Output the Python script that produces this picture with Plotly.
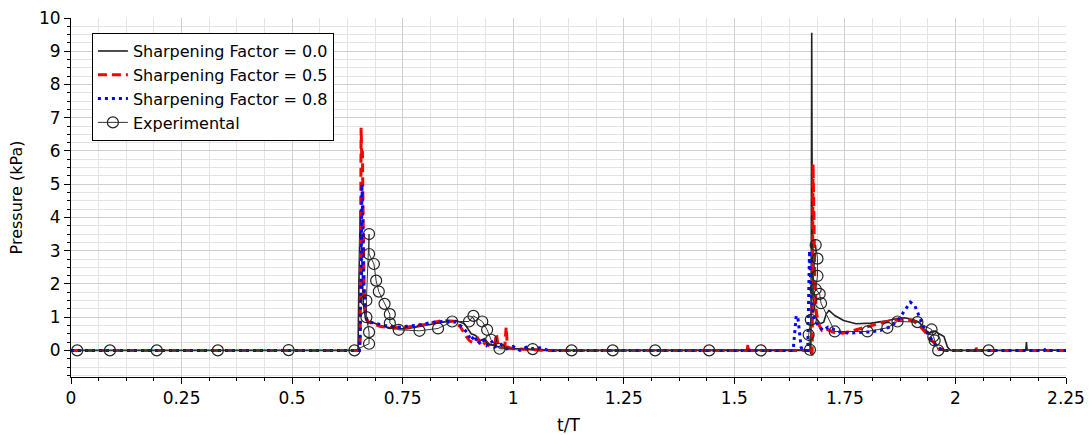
import plotly.graph_objects as go

# Simulated pressure traces, (t/T, pressure in kPa)
sf_00 = [
    (0.0, 0.0), (0.649, 0.0), (0.651, 2.0), (0.654, 4.2), (0.657, 3.0), (0.661, 1.4),
    (0.666, 0.95), (0.672, 0.8), (0.680, 0.85), (0.700, 0.75), (0.730, 0.65), (0.760, 0.65),
    (0.800, 0.75), (0.840, 0.85), (0.870, 0.9), (0.890, 0.8), (0.905, 0.5), (0.915, 0.45),
    (0.925, 0.3), (0.935, 0.35), (0.945, 0.2), (0.955, 0.15), (0.970, 0.1), (0.990, 0.05),
    (1.020, 0.05), (1.060, 0.0), (1.671, 0.0), (1.673, -0.1), (1.674, 3.0), (1.675, 9.56),
    (1.676, 4.5), (1.678, 1.8), (1.681, 1.3), (1.686, 0.95), (1.694, 0.8), (1.702, 0.85),
    (1.708, 1.1), (1.714, 1.2), (1.727, 1.05), (1.747, 0.9), (1.775, 0.8), (1.810, 0.82),
    (1.840, 0.88), (1.865, 0.95), (1.885, 0.98), (1.905, 0.92), (1.918, 0.85), (1.930, 0.62),
    (1.942, 0.52), (1.955, 0.58), (1.963, 0.5), (1.974, 0.42), (1.982, 0.1), (1.989, 0.0),
    (2.159, 0.0), (2.1605, 0.25), (2.162, 0.02), (2.250, 0.0),
]

sf_05 = [
    (0.0, 0.0), (0.652, 0.0), (0.654, 0.3), (0.656, 6.7), (0.6575, 5.8), (0.659, 6.0),
    (0.661, 3.5), (0.663, 1.8), (0.667, 1.0), (0.672, 0.85), (0.685, 0.8), (0.700, 0.72),
    (0.730, 0.68), (0.760, 0.7), (0.800, 0.78), (0.840, 0.9), (0.865, 0.88), (0.880, 0.72),
    (0.892, 0.45), (0.902, 0.28), (0.912, 0.22), (0.920, 0.35), (0.928, 0.12), (0.938, 0.25),
    (0.948, 0.1), (0.958, 0.15), (0.962, 0.5), (0.966, 0.12), (0.975, 0.1), (0.981, 0.12),
    (0.984, 0.7), (0.987, 0.1), (1.000, 0.05), (1.040, 0.02), (1.080, 0.0), (1.529, 0.0),
    (1.531, 0.2), (1.533, 0.0), (1.674, 0.0), (1.676, -0.15), (1.677, 2.5), (1.678, 5.6),
    (1.680, 4.0), (1.682, 2.2), (1.685, 1.2), (1.690, 0.8), (1.698, 0.6), (1.708, 0.65),
    (1.722, 0.55), (1.745, 0.52), (1.770, 0.6), (1.800, 0.72), (1.830, 0.82), (1.860, 0.9),
    (1.885, 0.95), (1.905, 0.88), (1.920, 0.72), (1.935, 0.5), (1.945, 0.32), (1.955, 0.18),
    (1.965, 0.05), (1.975, 0.0), (2.044, 0.0), (2.046, 0.12), (2.048, 0.0), (2.250, 0.0),
]

sf_08 = [
    (0.0, 0.0), (0.652, 0.0), (0.654, 0.5), (0.656, 4.0), (0.658, 5.0), (0.660, 3.8),
    (0.662, 2.0), (0.665, 1.2), (0.669, 0.9), (0.676, 0.85), (0.690, 0.8), (0.710, 0.75),
    (0.740, 0.7), (0.780, 0.75), (0.820, 0.85), (0.850, 0.88), (0.870, 0.85), (0.885, 0.7),
    (0.895, 0.55), (0.905, 0.3), (0.912, 0.45), (0.920, 0.2), (0.930, 0.35), (0.940, 0.15),
    (0.950, 0.3), (0.958, 0.1), (0.970, 0.2), (0.985, 0.05), (1.000, 0.12), (1.015, 0.0),
    (1.030, 0.1), (1.045, 0.05), (1.060, 0.08), (1.080, 0.0), (1.633, 0.0), (1.637, 0.6),
    (1.640, 1.05), (1.644, 0.95), (1.647, 0.5), (1.651, 0.1), (1.654, 0.0), (1.666, 0.0),
    (1.668, 1.5), (1.670, 3.0), (1.672, 2.2), (1.674, 1.6), (1.677, 1.1), (1.681, 0.9),
    (1.690, 0.75), (1.700, 0.6), (1.712, 0.7), (1.725, 0.62), (1.740, 0.55), (1.760, 0.52),
    (1.785, 0.54), (1.810, 0.56), (1.830, 0.6), (1.850, 0.7), (1.870, 0.9), (1.885, 1.2),
    (1.898, 1.45), (1.908, 1.35), (1.918, 1.0), (1.928, 0.7), (1.940, 0.45), (1.950, 0.25),
    (1.960, 0.1), (1.970, 0.0), (2.200, 0.0), (2.205, 0.05), (2.212, 0.0), (2.250, 0.0),
]

# Measured pressure samples
experimental = [
    (0.014, 0.0), (0.088, 0.0), (0.194, 0.0), (0.332, 0.0), (0.492, 0.01), (0.641, 0.0),
    (0.674, 0.2), (0.674, 0.55), (0.668, 1.0), (0.668, 1.5), (0.674, 3.5), (0.674, 2.9),
    (0.685, 2.6), (0.690, 2.1), (0.696, 1.77), (0.709, 1.4), (0.721, 1.09), (0.721, 0.82),
    (0.741, 0.62), (0.788, 0.59), (0.830, 0.66), (0.862, 0.87), (0.900, 0.87), (0.910, 1.04),
    (0.930, 0.87), (0.941, 0.62), (0.950, 0.32), (0.969, 0.05), (1.044, 0.04), (1.132, 0.0),
    (1.225, 0.0), (1.321, 0.0), (1.443, 0.0), (1.560, 0.0), (1.671, 0.02), (1.668, 0.47),
    (1.673, 0.92), (1.684, 3.17), (1.688, 2.76), (1.688, 2.24), (1.684, 1.84), (1.693, 1.70),
    (1.696, 1.42), (1.727, 0.57), (1.801, 0.57), (1.846, 0.68), (1.869, 0.87), (1.914, 0.85),
    (1.946, 0.63), (1.950, 0.42), (1.953, 0.3), (1.961, 0.0), (2.075, 0.0),
]

x_tick_vals = [0, 0.25, 0.5, 0.75, 1, 1.25, 1.5, 1.75, 2, 2.25]
x_tick_text = ["0", "0.25", "0.5", "0.75", "1", "1.25", "1.5", "1.75", "2", "2.25"]
y_tick_vals = [0, 1, 2, 3, 4, 5, 6, 7, 8, 9, 10]

fig = go.Figure()


def add_series(points, name, **kw):
    fig.add_trace(go.Scatter(
        x=[p[0] for p in points], y=[p[1] for p in points], name=name, **kw))


add_series(sf_00, "Sharpening Factor = 0.0", mode="lines",
           line=dict(color="#222222", width=1.6))
add_series(sf_05, "Sharpening Factor = 0.5", mode="lines",
           line=dict(color="#ff0000", width=3, dash="9px,5px"))
add_series(sf_08, "Sharpening Factor = 0.8", mode="lines",
           line=dict(color="#0000ff", width=3, dash="3px,4px"))
add_series(experimental, "Experimental", mode="lines+markers",
           line=dict(color="#333333", width=1),
           marker=dict(symbol="circle-open", size=11, color="#222222",
                       line=dict(width=1.2)))

axis_common = dict(
    showline=True, linecolor="black", linewidth=1, ticks="outside",
    ticklen=6, tickcolor="black", zeroline=False, showgrid=True,
    gridcolor="#cfcfcf", gridwidth=1,
    tickfont=dict(family="DejaVu Sans", size=17, color="black"),
)

fig.update_xaxes(
    range=[0, 2.25], tickvals=x_tick_vals, ticktext=x_tick_text,
    minor=dict(dtick=0.0625, tick0=0, ticks="outside", ticklen=3,
               tickcolor="black", showgrid=True, gridcolor="#e3e3e3"),
    title=dict(text="t/T", standoff=12,
               font=dict(family="DejaVu Sans", size=17, color="black")),
    **axis_common,
)
fig.update_yaxes(
    range=[-0.8, 10], tickvals=y_tick_vals,
    minor=dict(dtick=0.25, tick0=0, ticks="outside", ticklen=3,
               tickcolor="black", showgrid=True, gridcolor="#e3e3e3"),
    title=dict(text="Pressure (kPa)", standoff=12,
               font=dict(family="DejaVu Sans", size=16, color="black")),
    **axis_common,
)

fig.update_layout(
    width=1091, height=435,
    margin=dict(l=71, r=25, t=18, b=58, autoexpand=False),
    plot_bgcolor="white", paper_bgcolor="white",
    font=dict(family="DejaVu Sans", size=16, color="black"),
    showlegend=True,
    legend=dict(x=0.021, y=0.958, xanchor="left", yanchor="top",
                bordercolor="black", borderwidth=1, bgcolor="white",
                font=dict(family="DejaVu Sans", size=16, color="black"),
                itemwidth=30, tracegroupgap=0),
)

fig.write_html("out.html")
